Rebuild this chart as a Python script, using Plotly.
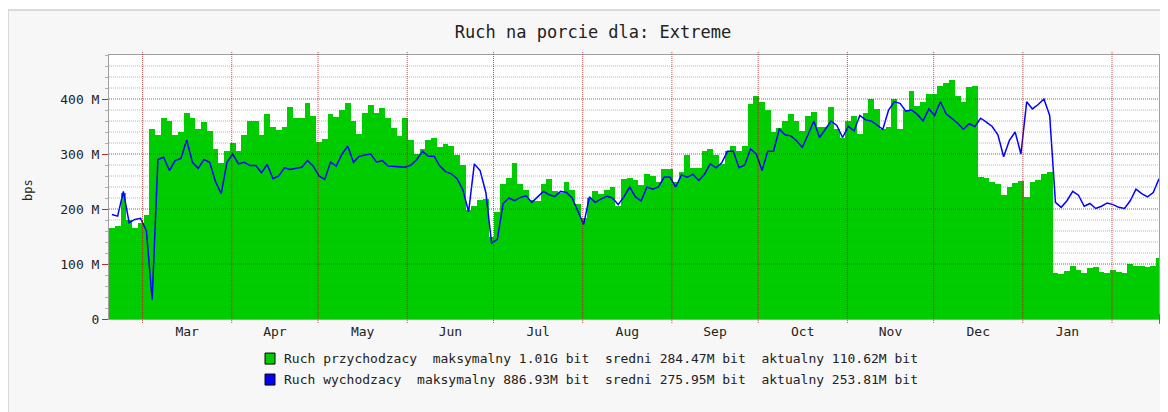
import numpy as np
import pandas as pd
import plotly.graph_objects as go

# ---------------- data (Mbit/s, 2-day averages) ----------------
inbound_M = [
    165, 170, 230, 180, 166, 175, 190, 345, 335, 365,
    360, 335, 340, 375, 365, 345, 358, 342, 309, 284,
    305, 320, 305, 335, 360, 360, 335, 372, 350, 343,
    350, 385, 365, 365, 393, 370, 322, 327, 372, 368,
    380, 392, 360, 337, 375, 390, 375, 383, 365, 348,
    333, 365, 325, 300, 309, 325, 329, 312, 318, 314,
    298, 280, 198, 205, 217, 219, 150, 195, 245, 256,
    284, 245, 235, 217, 215, 245, 254, 233, 230, 250,
    235, 210, 183, 220, 232, 228, 235, 240, 205, 255,
    257, 252, 244, 263, 260, 250, 272, 272, 250, 268,
    298, 275, 275, 305, 310, 298, 282, 305, 315, 305,
    315, 391, 405, 395, 380, 340, 348, 360, 372, 360,
    342, 370, 377, 350, 350, 385, 345, 330, 360, 369,
    337, 375, 400, 382, 345, 350, 400, 345, 380, 415,
    388, 395, 410, 410, 424, 430, 434, 405, 395, 422,
    424, 258, 257, 250, 246, 225, 240, 248, 251, 222,
    250, 252, 263, 268, 83, 82, 88, 96, 90, 83,
    92, 94, 86, 83, 90, 86, 83, 100, 96, 97,
    94, 96, 111,
]
outbound_M = [
    190, 187, 232, 175, 181, 183, 160, 35, 290, 294,
    270, 288, 292, 325, 285, 274, 290, 285, 250, 228,
    285, 300, 282, 285, 279, 279, 266, 281, 255, 260,
    275, 272, 274, 276, 288, 278, 260, 254, 285, 278,
    300, 314, 285, 296, 298, 300, 285, 288, 278, 277,
    277, 276, 280, 290, 305, 296, 296, 278, 268, 264,
    255, 235, 195, 282, 270, 230, 138, 145, 210, 220,
    215, 221, 224, 212, 222, 232, 226, 223, 232, 230,
    220, 195, 172, 222, 212, 218, 223, 220, 208, 222,
    240, 222, 215, 240, 236, 240, 258, 258, 240, 262,
    258, 263, 252, 263, 282, 275, 284, 305, 305, 275,
    280, 309, 300, 270, 305, 305, 345, 335, 333, 324,
    312, 335, 360, 330, 345, 360, 352, 330, 350, 342,
    370, 362, 360, 352, 345, 380, 395, 392, 378, 380,
    372, 360, 382, 370, 395, 373, 365, 356, 345, 355,
    350, 365, 358, 350, 335, 295, 325, 340, 300, 395,
    382, 390, 400, 370, 212, 203, 215, 232, 225, 205,
    210, 201, 205, 211, 208, 203, 201, 215, 236, 228,
    222, 230, 255,
]
month_labels = ["Mar", "Apr", "May", "Jun", "Jul", "Aug", "Sep", "Oct", "Nov", "Dec", "Jan"]
y_tick_vals_M = [0, 100, 200, 300, 400]
y_tick_text = ["0", "100 M", "200 M", "300 M", "400 M"]
legend_lines = [
    "Ruch przychodzacy  maksymalny 1.01G bit  sredni 284.47M bit  aktualny 110.62M bit",
    "Ruch wychodzacy  maksymalny 886.93M bit  sredni 275.95M bit  aktualny 253.81M bit",
]
title_text = "Ruch na porcie dla: Extreme"

# ---------------- derived axes ----------------
t_start = pd.Timestamp("2010-02-17 08:00")
t_end = pd.Timestamp("2011-02-17 08:00")
centers = pd.date_range(t_start + pd.Timedelta(days=1), periods=len(inbound_M), freq="2D")
inbound = np.array(inbound_M) * 1e6
outbound = np.array(outbound_M) * 1e6

month_starts = pd.date_range("2010-03-01", "2011-02-01", freq="MS")
month_mids = [month_starts[i] + (month_starts[i + 1] - month_starts[i]) / 2 for i in range(len(month_labels))]

GREEN = "#00cc00"
BLUE = "#0000ff"
MONO = "DejaVu Sans Mono"
MAJOR = "rgba(170,20,20,0.75)"
MINOR = "rgba(110,110,110,0.5)"

W, H = 1160, 404  # page has an 8px body margin

fig = go.Figure()
fig.add_trace(go.Bar(
    x=centers, y=inbound, width=2 * 86400000,
    marker=dict(color=GREEN, line=dict(width=0)), showlegend=False, hoverinfo="skip",
))
fig.add_trace(go.Scatter(
    x=centers, y=outbound, mode="lines",
    line=dict(color=BLUE, width=1.5), showlegend=False, hoverinfo="skip",
))

shapes = []
# outer panel + white plot area (below everything)
shapes.append(dict(type="rect", xref="paper", yref="paper", x0=-0.0962, x1=1.02, y0=-0.40, y1=1.1705,
                   fillcolor="#f7f7f7", line=dict(color="#d9d9d9", width=2), layer="below"))
shapes.append(dict(type="rect", xref="paper", yref="paper", x0=0, x1=1, y0=0, y1=1,
                   fillcolor="#ffffff", line=dict(width=0), layer="below"))
# grid drawn on top of the data, like rrdtool
for v in np.arange(20, 480, 20):
    is_major = (v % 100 == 0)
    shapes.append(dict(type="line", xref="paper", yref="y", x0=0, x1=1, y0=v * 1e6, y1=v * 1e6,
                       line=dict(color=MAJOR if is_major else MINOR, width=1, dash="1px,1px"),
                       layer="above"))
for m in month_starts:
    shapes.append(dict(type="line", xref="x", yref="paper", x0=m, x1=m, y0=-0.015, y1=1.012,
                       line=dict(color=MAJOR, width=1, dash="1px,1px"), layer="above"))
# arrow at the end of x axis
shapes.append(dict(type="path", xref="paper", yref="paper",
                   path="M 1.0005,0.017 L 1.0075,0 L 1.0005,-0.017 Z",
                   line=dict(color="#ff2020", width=1), fillcolor="rgba(0,0,0,0)"))
# legend squares
for i, col in enumerate([GREEN, BLUE]):
    y_top = -0.129 - i * 0.0795
    shapes.append(dict(type="rect", xref="paper", yref="paper", x0=0.1486, x1=0.1581,
                       y0=y_top - 0.0417, y1=y_top, fillcolor=col,
                       line=dict(color="#000000", width=1)))

annotations = []
for i, txt in enumerate(legend_lines):
    annotations.append(dict(text=txt.replace("  ", "\u00a0\u00a0"), xref="paper", yref="paper",
                            x=0.1645, y=-0.150 - i * 0.0795, xanchor="left", yanchor="middle",
                            showarrow=False, font=dict(family=MONO, size=13, color="#222222")))
annotations.append(dict(text="bps", xref="paper", yref="paper", x=-0.0771, y=0.489,
                        textangle=-90, showarrow=False, xanchor="center", yanchor="middle",
                        font=dict(family=MONO, size=12, color="#222222")))

fig.update_layout(
    width=W, height=H,
    margin=dict(l=101, r=9, t=47, b=93),
    paper_bgcolor="#ffffff", plot_bgcolor="#ffffff",
    bargap=0,
    title=dict(text=title_text, x=585 / W, xref="container", xanchor="center",
               y=1 - 24 / H, yref="container", yanchor="middle",
               font=dict(family=MONO, size=17, color="#222222")),
    shapes=shapes, annotations=annotations,
    showlegend=False,
)
fig.update_xaxes(
    type="date", range=[t_start, t_end],
    tickmode="array", tickvals=month_mids, ticktext=month_labels,
    ticks="", showgrid=False, zeroline=False,
    tickfont=dict(family=MONO, size=13, color="#222222"),
    showline=True, linecolor="#a0a0a0", linewidth=1, mirror=True,
)
fig.update_yaxes(
    range=[0, 480e6],
    tickmode="array", tickvals=[v * 1e6 for v in y_tick_vals_M], ticktext=y_tick_text,
    ticks="outside", ticklen=6, tickcolor="#b03030",
    showgrid=False, zeroline=False,
    tickfont=dict(family=MONO, size=13, color="#222222"),
    showline=True, linecolor="#a0a0a0", linewidth=1, mirror=True,
    minor=dict(dtick=20e6, ticks="outside", ticklen=3, tickcolor="#b0b0b0", showgrid=False),
)

fig.write_html("out.html")
